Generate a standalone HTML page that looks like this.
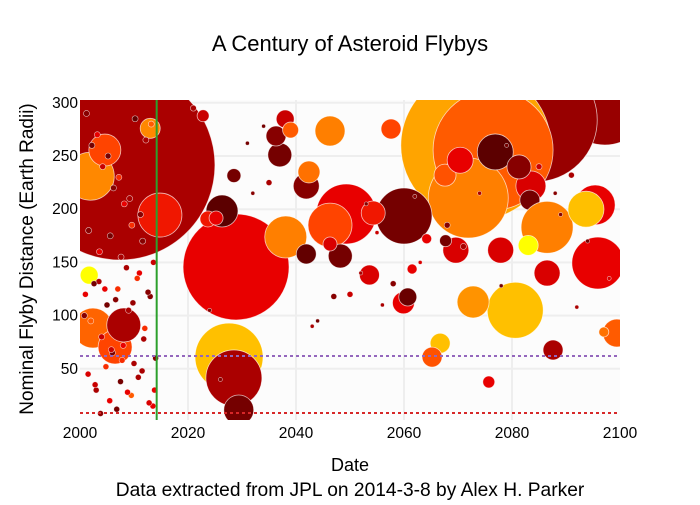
<!DOCTYPE html>
<html><head><meta charset="utf-8">
<style>
body{margin:0;background:#fff;}
svg text{font-family:"Liberation Sans",sans-serif;}
</style></head>
<body>
<svg id="chart" width="700" height="500" xmlns="http://www.w3.org/2000/svg">
<rect x="0" y="0" width="700" height="500" fill="#fff"/>
<rect x="80" y="100" width="540" height="320" fill="#fcfcfc"/>
<g id="grid"></g>
<g id="marks"></g>
<g id="lines"></g>
<g id="axes"></g>
<text x="350" y="51" font-size="22" text-anchor="middle" fill="#000">A Century of Asteroid Flybys</text>
<text x="350" y="471" font-size="18" text-anchor="middle" fill="#000">Date</text>
<text x="350" y="496" font-size="19.2" text-anchor="middle" fill="#000">Data extracted from JPL on 2014-3-8 by Alex H. Parker</text>
<text transform="translate(33,259) rotate(-90)" font-size="19" text-anchor="middle" fill="#000">Nominal Flyby Distance (Earth Radii)</text>
</svg>
<script>
const xTicks=[2000,2020,2040,2060,2080,2100];
const yTicks=[50,100,150,200,250,300];
const years=[2007.4,2097.2,2084.3,2073.3,2076.5,2071.9,2076.9,2083.5,2081.3,2083.3,2067.6,2070.4,2060,2049.3,2046.3,2054.3,2086.5,2095.4,2093.7,2083,2095.9,2080.6,2072.8,2059.9,2060.7,2066.7,2065.2,2087.6,2075.7,2099.4,2046.3,2057.6,2037,2036.3,2038,2039,2041.9,2042.4,2028.9,2014.8,2026.3,2023.7,2038.1,2027.6,2028.5,2029.4,2001.9,2004.6,2013,2002.4,2006.5,2008.1,2001.7,2077.9,2086.5,2069.6,2064.2,2067.7,2053.6,2061.5,2097,2041.9,2048.2,2046.3,2022.8,2028.5,2025.2,2001,2003.5,2005,2007,2009,2011,2013,2002,2004,2006,2008,2010,2012,2014,2001.5,2003,2005.5,2007.5,2009.5,2011.5,2013.5,2000.8,2002.8,2004.8,2006.8,2008.8,2010.8,2012.8,2003.8,2007.8,2011.8,2013.8,2009.8,2005.8,
2001.2,2003.2,2005.2,2007.2,2009.2,2011.2,2013.2,2002.2,2004.2,2006.2,2008.2,2010.2,2012.2,2001.6,2003.6,2005.6,2007.6,2009.6,2011.6,2013.6,2002.6,2004.6,2006.6,2008.6,2010.6,2012.6,
2032,2035,2044,2050,2053,2056,2058,2063,2068,2074,2079,2085,2089,2091,2094,2098,2021,2024,2031,2043,2047,2055,2062,2071,2078,2088,2092,2026,2034,2052];
const dists=[241.5,302.6,284,260,255.6,210.5,253.8,221.8,239.7,208.6,232,246,193.6,195.5,185,196.4,183,204,200,166,149.4,105,112.8,112,117.5,74,61,67.7,37.6,83.6,273.5,275.4,251,268.8,284.8,274.4,221.8,235,145.7,194.5,198.3,190.8,173.9,61,41.4,11.3,231,255.6,276,88.3,70.5,91.2,138,161.5,140,161.5,172.2,170.4,138.2,143.8,84.6,157.9,156,167.3,287.8,231.6,191.7,120,132,110,125,105,140,118,95,80,65,72,55,88,60,45,30,20,38,25,48,15,100,35,52,12,28,42,18,8,58,78,30,112,68,
290,270,250,230,210,195,280,260,240,220,205,285,265,180,160,175,155,185,170,150,130,125,115,145,135,122,
215,225,95,120,205,110,130,150,185,215,260,240,195,232,170,135,295,105,262,90,118,178,212,165,128,215,108,40,278,140];
const sizes=[95,45,62,75,60,40,18,15,12,10,11,13,28,30,22,12,26,20,18,10,26,28,16,11,9,10,10,10,6,14,15,10,12,10,9,8,13,11,53,22,16,8,21,34,28,15,24,16,10,20,17,17,9,13,13,13,5,6,10,5,5,10,12,7,6,7,7,3,3,3,3,3,3,3,3,3,3,3,3,3,3,3,3,3,3,3,3,3,3,3,3,3,3,3,3,3,3,3,3,3,3,
3,3,3,3,3,3,3,3,3,3,3,3,3,3,3,3,3,3,3,3,3,3,3,3,3,3,
2,3,2,3,2,2,3,2,3,2,2,3,2,3,2,2,3,2,2,2,3,2,2,3,2,2,2,2,2,2];
const heat=[0.3,0.25,0.25,0.85,0.7,0.78,0.08,0.45,0.2,0.15,0.68,0.5,0.15,0.5,0.65,0.55,0.78,0.5,0.9,1,0.5,0.9,0.82,0.5,0.12,0.9,0.68,0.3,0.5,0.7,0.78,0.65,0.15,0.2,0.4,0.7,0.2,0.75,0.5,0.55,0.08,0.55,0.78,0.9,0.3,0.15,0.8,0.65,0.8,0.72,0.65,0.3,1,0.45,0.45,0.45,0.5,0.15,0.45,0.5,0.75,0.1,0.15,0.45,0.4,0.15,0.5,0.5,0.3,0.15,0.6,0.3,0.5,0.2,0.7,0.4,0.15,0.5,0.3,0.6,0.2,0.45,0.3,0.5,0.15,0.7,0.3,0.5,0.2,0.4,0.6,0.15,0.5,0.3,0.45,0.2,0.6,0.3,0.5,0.25,0.4,
0.2,0.5,0.15,0.6,0.3,0.2,0.7,0.15,0.4,0.2,0.5,0.1,0.3,0.2,0.5,0.15,0.3,0.6,0.2,0.4,0.15,0.5,0.2,0.3,0.6,0.2,
0.2,0.3,0.15,0.4,0.2,0.3,0.2,0.45,0.2,0.3,0.15,0.4,0.2,0.3,0.15,0.45,0.3,0.2,0.15,0.3,0.2,0.4,0.2,0.3,0.15,0.2,0.3,0.2,0.15,0.3];
const earthLine=8.5, moonLine=62, todayYear=2014.2;

const X=v=>80+(v-2000)*5.4;
const Y=v=>422-v*1.064;
const NS='http://www.w3.org/2000/svg';
function mk(tag,parent){const e=document.createElementNS(NS,tag);document.getElementById(parent).appendChild(e);return e;}
const stops=[[0,[64,0,0]],[0.3,[170,0,0]],[0.5,[232,0,0]],[0.65,[255,68,0]],[0.8,[255,136,0]],[0.9,[255,192,0]],[1,[255,255,0]]];
function col(t){for(let i=1;i<stops.length;i++){if(t<=stops[i][0]){const a=stops[i-1],b=stops[i];const f=(t-a[0])/(b[0]-a[0]);return 'rgb('+a[1].map((c,k)=>Math.round(c+(b[1][k]-c)*f)).join(',')+')';}}return 'rgb(255,255,0)';}

xTicks.forEach(t=>{
  if(t>2000&&t<2100){const l=mk('line','grid');
  
  
  l.setAttribute('x1',X(t));l.setAttribute('x2',X(t));l.setAttribute('y1',100);l.setAttribute('y2',420);l.setAttribute('stroke','#eee');l.setAttribute('stroke-width',2);}
  const tx=mk('text','axes');
  
  
  tx.setAttribute('x',X(t));tx.setAttribute('y',438);tx.setAttribute('font-size',15.5);tx.setAttribute('text-anchor','middle');tx.textContent=t;
});
yTicks.forEach(t=>{
  const l=mk('line','grid');
  
  
  l.setAttribute('x1',80);l.setAttribute('x2',620);l.setAttribute('y1',Y(t));l.setAttribute('y2',Y(t));l.setAttribute('stroke','#eee');l.setAttribute('stroke-width',2);
  const tx=mk('text','axes');
  
  
  tx.setAttribute('x',78);tx.setAttribute('y',Y(t)+5);tx.setAttribute('font-size',15.5);tx.setAttribute('text-anchor','end');tx.textContent=t;
});
const clip=document.createElementNS(NS,'clipPath');clip.setAttribute('id','pc');
const cr=document.createElementNS(NS,'rect');cr.setAttribute('x',80);cr.setAttribute('y',100);cr.setAttribute('width',540);cr.setAttribute('height',320);
clip.appendChild(cr);document.getElementById('chart').appendChild(clip);
document.getElementById('marks').setAttribute('clip-path','url(#pc)');
years.forEach((yr,i)=>{
  const c=mk('circle','marks');
  
  
  c.setAttribute('cx',X(yr));c.setAttribute('cy',Y(dists[i]));c.setAttribute('r',sizes[i]);
  c.setAttribute('fill',col(heat[i]));c.setAttribute('stroke','rgba(255,255,255,0.7)');c.setAttribute('stroke-width',sizes[i]>4?0.8:0.6);
});
let l=mk('line','lines');


l.setAttribute('x1',X(todayYear));l.setAttribute('x2',X(todayYear));l.setAttribute('y1',100);l.setAttribute('y2',420);l.setAttribute('stroke','#2ca02c');l.setAttribute('stroke-width',2);
l=mk('line','lines');


l.setAttribute('x1',80);l.setAttribute('x2',620);l.setAttribute('y1',Y(moonLine));l.setAttribute('y2',Y(moonLine));l.setAttribute('stroke','#9467bd');l.setAttribute('stroke-width',2);l.setAttribute('stroke-dasharray','3,3');
l=mk('line','lines');


l.setAttribute('x1',80);l.setAttribute('x2',620);l.setAttribute('y1',Y(earthLine));l.setAttribute('y2',Y(earthLine));l.setAttribute('stroke','#d62728');l.setAttribute('stroke-width',2);l.setAttribute('stroke-dasharray','3,3');
</script>
</body></html>
